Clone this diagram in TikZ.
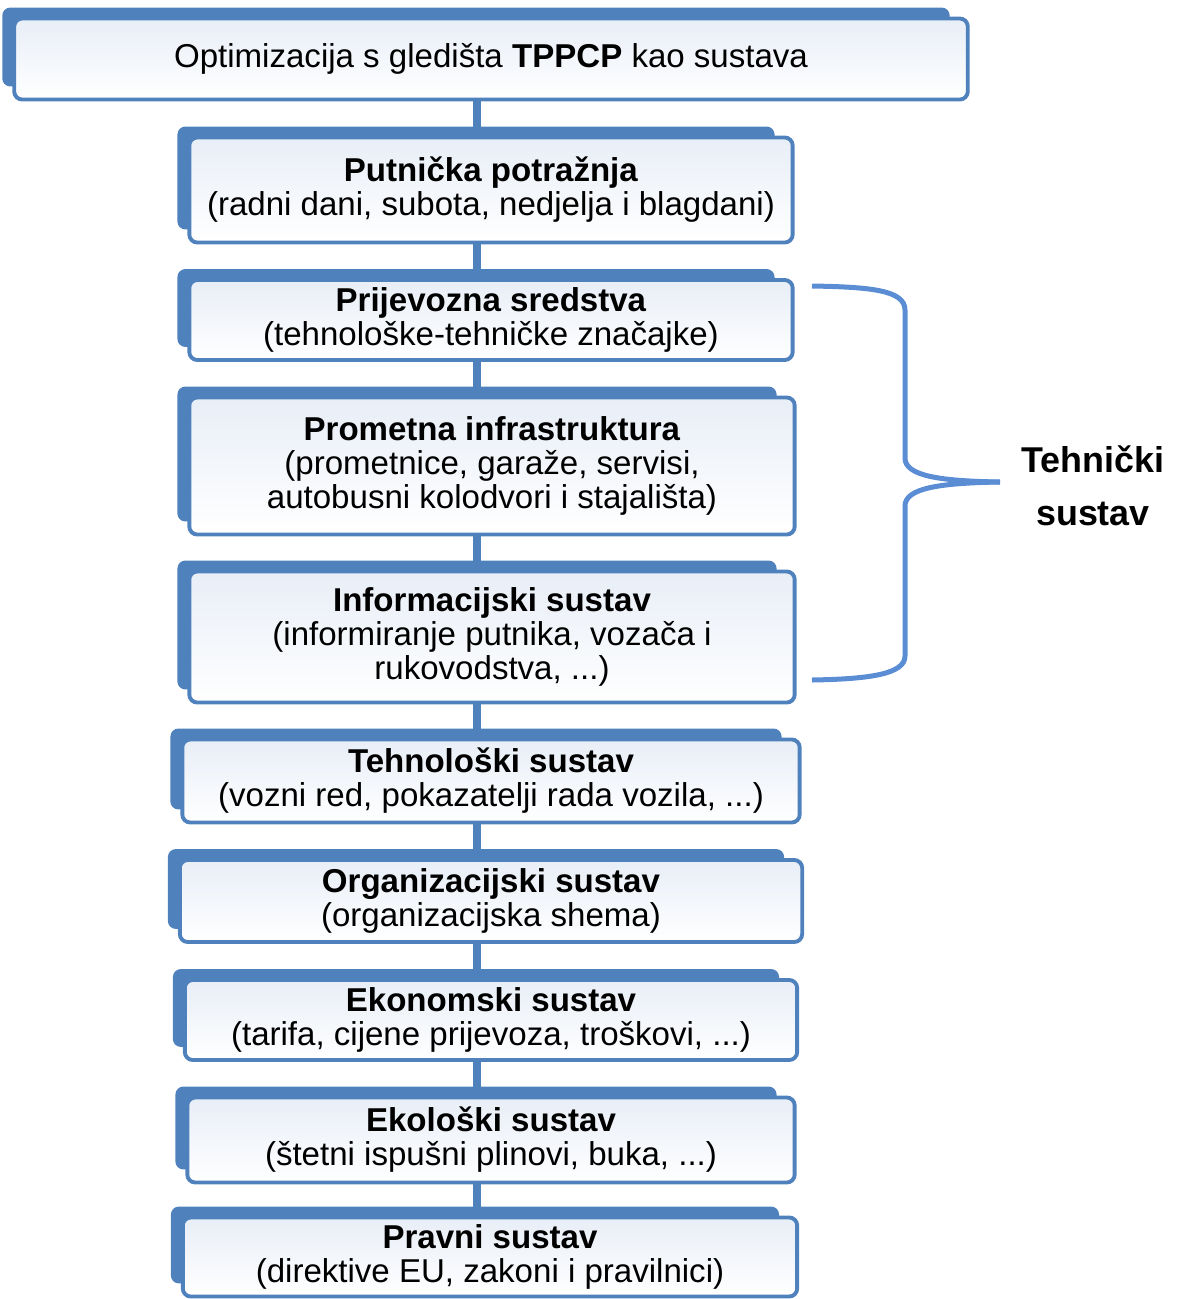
\documentclass[tikz,border=0pt]{standalone}
\usepackage{fontspec}
\setmainfont{Liberation Sans}
\usetikzlibrary{positioning,backgrounds}
\definecolor{okvir}{RGB}{79,129,189}
\definecolor{ispuna}{RGB}{232,238,247}
\definecolor{zagradaplava}{RGB}{91,141,213}

\begin{document}
\begin{tikzpicture}[x=0.01cm, y=-0.01cm,
    blok/.style={draw=okvir, line width=1.1pt, rounded corners=0.08cm, top color=ispuna, bottom color=white, inner sep=0pt, align=center, font=\fontsize{9.4}{9.7}\selectfont},
    pozadina/.style={fill=okvir, rounded corners=0.08cm},
    veza/.style={draw=okvir, line width=0.075cm},
    zagrada/.style={draw=zagradaplava, line width=0.05cm}]
    \useasboundingbox (0,0) rectangle (1179,1299);

    % Blokovi
    \node [blok, minimum width=9.53cm, minimum height=0.81cm] (b0) at (491,59) {Optimizacija s gledišta \textbf{TPPCP} kao sustava};
    \node [blok, minimum width=6.03cm, minimum height=1.05cm] (b1) at (491,190) {\textbf{Putnička potražnja}\\(radni dani, subota, nedjelja i blagdani)};
    \node [blok, minimum width=6.03cm, minimum height=0.80cm] (b2) at (491,320) {\textbf{Prijevozna sredstva}\\(tehnološke-tehničke značajke)};
    \node [blok, minimum width=6.05cm, minimum height=1.37cm] (b3) at (492,466) {\textbf{Prometna infrastruktura}\\(prometnice, garaže, servisi,\\autobusni kolodvori i stajališta)};
    \node [blok, minimum width=6.05cm, minimum height=1.31cm] (b4) at (492,637) {\textbf{Informacijski sustav}\\(informiranje putnika, vozača i\\rukovodstva, ...)};
    \node [blok, minimum width=6.17cm, minimum height=0.83cm] (b5) at (491,781) {\textbf{Tehnološki sustav}\\(vozni red, pokazatelji rada vozila, ...)};
    \node [blok, minimum width=6.22cm, minimum height=0.82cm] (b6) at (491,901) {\textbf{Organizacijski sustav}\\(organizacijska shema)};
    \node [blok, minimum width=6.12cm, minimum height=0.80cm] (b7) at (491,1020) {\textbf{Ekonomski sustav}\\(tarifa, cijene prijevoza, troškovi, ...)};
    \node [blok, minimum width=6.07cm, minimum height=0.85cm] (b8) at (491,1140) {\textbf{Ekološki sustav}\\(štetni ispušni plinovi, buka, ...)};
    \node [blok, minimum width=6.14cm, minimum height=0.79cm] (b9) at (490,1257) {\textbf{Pravni sustav}\\(direktive EU, zakoni i pravilnici)};

    \coordinate (os) at (477,0);

    % Pozadina i veze
    \begin{pgfonlayer}{background}
        \foreach \b in {b0,b1,b2,b3,b4,b5,b6,b7,b8,b9}
            \fill [pozadina] ([shift={(-10,-9)}]\b.north west) rectangle ([shift={(-20,-15)}]\b.south east);
        \foreach \a/\b in {b0/b1,b1/b2,b2/b3,b3/b4,b4/b5,b5/b6,b6/b7,b7/b8,b8/b9}
            \draw [veza] (\a.south -| os) -- (\b.north -| os);
    \end{pgfonlayer}

    % Zagrada
    \coordinate (zg) at (812,286);
    \coordinate (zv) at (1000,482);
    \coordinate (zd) at (812,680);
    \draw [zagrada] (zg) .. controls (870,287) and (905,290) .. (905,310) -- (905,458)
        .. controls (905,476) and (940,481) .. (zv);
    \draw [zagrada] (zv) .. controls (940,483) and (905,488) .. (905,506) -- (905,656)
        .. controls (905,674) and (870,679) .. (zd);
    \node [align=center, font=\fontsize{10.2}{15}\selectfont\bfseries] (teh) at (1093,486) {Tehnički\\sustav};

\end{tikzpicture}
\end{document}
